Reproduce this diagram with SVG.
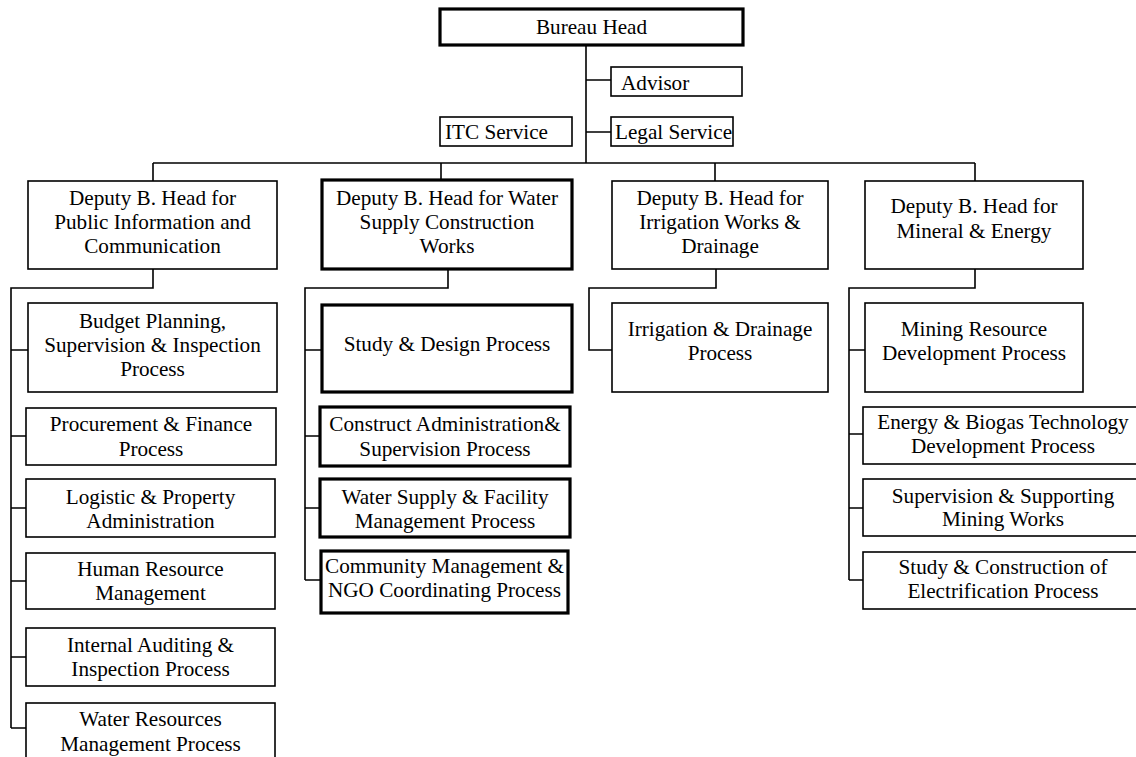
<svg xmlns="http://www.w3.org/2000/svg" width="1136" height="757" viewBox="0 0 1136 757">
<style>
.b{fill:#fff;stroke:#000;stroke-width:1.6}
.k{fill:#fff;stroke:#000;stroke-width:3.2}
.c{fill:none;stroke:#000;stroke-width:1.6}
text{font-family:"Liberation Serif","Times New Roman",serif;font-size:21.2px;fill:#000;text-anchor:middle}
.l{text-anchor:start}
</style>
<rect width="1136" height="757" fill="#fff"/>
<g id="connectors">
<path class="c" d="M586 45V163M586 80H611M586 132H611M153 163H975M153 163V181M441 163V180M715 163V181M975 163V181"/>
<path class="c" d="M153 269V288H11V728M11 350H28M11 436H26M11 508H26M11 581H26M11 657H26M11 728H26"/>
<path class="c" d="M448 269V288H305V580M305 350H322M305 436H320M305 508H320M305 580H321"/>
<path class="c" d="M716 269V288H589V350H612"/>
<path class="c" d="M975 269V288H849V580M849 350H865M849 434H863M849 508H863M849 580H863"/>
</g>
<g id="bureau-head"><rect class="k" x="440" y="9" width="303" height="36"/><text x="591.5" y="33.5">Bureau Head</text></g>
<g id="advisor"><rect class="b" x="611" y="67" width="131" height="29"/><text class="l" x="621" y="89.5">Advisor</text></g>
<g id="legal-service"><rect class="b" x="611" y="117" width="122" height="29"/><text class="l" x="615" y="138.5">Legal Service</text></g>
<g id="itc-service"><rect class="b" x="440" y="117" width="132" height="29"/><text class="l" x="445" y="138.5">ITC Service</text></g>

<g id="deputy-public"><rect class="b" x="28" y="181" width="249" height="88"/><text x="152.5" y="204.5">Deputy B. Head for</text><text x="152.5" y="228.5">Public Information and</text><text x="152.5" y="252.5">Communication</text></g>
<g id="deputy-water"><rect class="k" x="322" y="180" width="250" height="89"/><text x="447" y="204.5">Deputy B. Head for Water</text><text x="447" y="228.5">Supply Construction</text><text x="447" y="252.5">Works</text></g>
<g id="deputy-irrigation"><rect class="b" x="612" y="181" width="216" height="88"/><text x="720" y="204.5">Deputy B. Head for</text><text x="720" y="228.5">Irrigation Works &amp;</text><text x="720" y="252.5">Drainage</text></g>
<g id="deputy-mineral"><rect class="b" x="865" y="181" width="218" height="88"/><text x="974" y="212.5">Deputy B. Head for</text><text x="974" y="237.5">Mineral &amp; Energy</text></g>

<g id="budget"><rect class="b" x="28" y="303" width="249" height="89"/><text x="152.5" y="327.5">Budget Planning,</text><text x="152.5" y="351.5">Supervision &amp; Inspection</text><text x="152.5" y="375.5">Process</text></g>
<g id="procurement"><rect class="b" x="26" y="408" width="250" height="57"/><text x="151" y="430.5">Procurement &amp; Finance</text><text x="151" y="455.5">Process</text></g>
<g id="logistic"><rect class="b" x="26" y="479" width="249" height="58"/><text x="150.5" y="503.5">Logistic &amp; Property</text><text x="150.5" y="527.5">Administration</text></g>
<g id="human"><rect class="b" x="26" y="553" width="249" height="56"/><text x="150.5" y="575.5">Human Resource</text><text x="150.5" y="599.5">Management</text></g>
<g id="internal"><rect class="b" x="26" y="628" width="249" height="58"/><text x="150.5" y="651.5">Internal Auditing &amp;</text><text x="150.5" y="675.5">Inspection Process</text></g>
<g id="water-resources"><rect class="b" x="26" y="703" width="249" height="70"/><text x="150.5" y="725.5">Water Resources</text><text x="150.5" y="750.5">Management Process</text></g>

<g id="study-design"><rect class="k" x="322" y="305" width="250" height="87"/><text x="447" y="350.5">Study &amp; Design Process</text></g>
<g id="construct"><rect class="k" x="320" y="407" width="250" height="59"/><text x="445" y="430.5">Construct Administration&amp;</text><text x="445" y="455.5">Supervision Process</text></g>
<g id="water-supply"><rect class="k" x="320" y="479" width="250" height="58"/><text x="445" y="503.5">Water Supply &amp; Facility</text><text x="445" y="527.5">Management Process</text></g>
<g id="community"><rect class="k" x="321" y="551" width="247" height="62"/><text x="444.5" y="572.5">Community Management &amp;</text><text x="444.5" y="596.5">NGO Coordinating Process</text></g>

<g id="irrigation-process"><rect class="b" x="612" y="303" width="216" height="89"/><text x="720" y="335.5">Irrigation &amp; Drainage</text><text x="720" y="359.5">Process</text></g>

<g id="mining"><rect class="b" x="865" y="303" width="218" height="89"/><text x="974" y="335.5">Mining Resource</text><text x="974" y="359.5">Development Process</text></g>
<g id="energy"><rect class="b" x="863" y="407" width="280" height="57"/><text x="1003" y="428.5">Energy &amp; Biogas Technology</text><text x="1003" y="452.5">Development Process</text></g>
<g id="supervision-mining"><rect class="b" x="863" y="479" width="280" height="57"/><text x="1003" y="502.5">Supervision &amp; Supporting</text><text x="1003" y="525.5">Mining Works</text></g>
<g id="electrification"><rect class="b" x="863" y="552" width="280" height="57"/><text x="1003" y="573.5">Study &amp; Construction of</text><text x="1003" y="597.5">Electrification Process</text></g>
</svg>
